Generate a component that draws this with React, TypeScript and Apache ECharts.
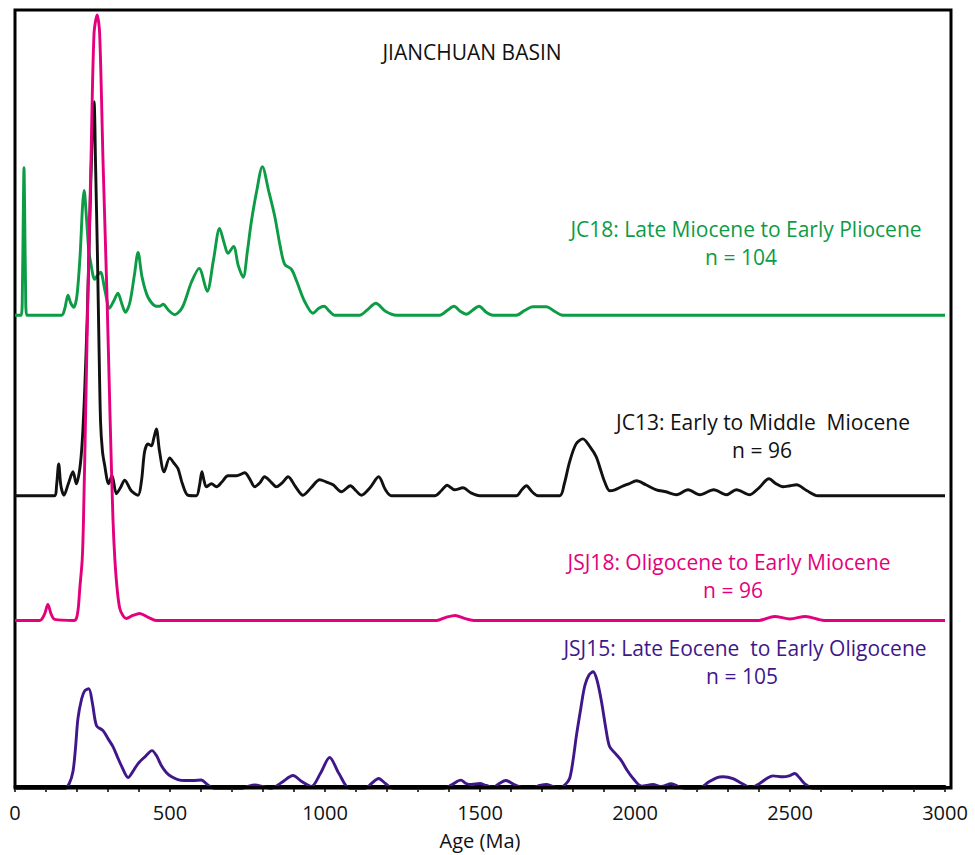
import React, { useEffect, useRef } from "react";
import * as echarts from "echarts";

// [age (Ma), relative probability (scaled)]
const jc18: number[][] = [[0,0],[20,0],[24,30],[27,110],[29,148],[31,110],[34,30],[38,0],[150,0],[160,6],[171,20],[180,12],[190,8],[200,20],[210,60],[218,110],[223,125],[230,100],[238,65],[244,53],[257,36],[266,40],[276,43],[290,25],[305,7],[318,14],[332,22],[344,12],[356,3],[370,12],[385,40],[397,63],[410,38],[429,18],[456,9],[467,9],[478,11],[495,5],[515,0.5],[540,8],[569,33],[594,47],[620,24],[640,55],[660,87],[675,72],[687,62],[705,69],[720,50],[736,38],[750,65],[762,93],[780,125],[798,149],[818,125],[838,99],[855,70],[870,51],[892,46],[910,33],[934,14],[961,2],[980,7],[997,9],[1014,4],[1031,0],[1112,0],[1135,5],[1164,12],[1195,4],[1230,0],[1370,0],[1395,5],[1416,9],[1436,4],[1456,1],[1476,5],[1497,9],[1520,3],[1542,0],[1617,0],[1645,5],[1670,8.5],[1692,8.5],[1714,8.5],[1740,4],[1767,0],[3000,0]];

const jc13: number[][] = [[0,0],[128,0],[134,10],[141,32],[148,10],[158,0.5],[172,12],[187,24],[198,12],[209,27],[217,55],[225,107],[233,180],[241,274],[248,350],[255,395],[260,330],[266,240],[271,150],[276,74],[282,45],[289,31],[302,12],[313,20],[327,2],[340,8],[354,15.6],[375,5],[397,0.5],[408,15],[418,44],[429,52],[440,50],[448,58],[456,67],[466,45],[481,24],[499,38],[512,33],[526,27],[540,12],[558,0.5],[585,0],[595,10],[603,24],[610,15],[617,9],[634,12],[650,9],[668,14],[687,20],[714,20],[741,23],[757,17],[773,9],[790,13],[805,19],[825,14],[843,9],[862,13],[881,19],[905,9],[929,0.5],[955,8],[983,16],[1003,14],[1026,11],[1053,4],[1082,10],[1100,5],[1117,0.5],[1145,8],[1173,19],[1195,6],[1214,0],[1354,0],[1375,5],[1394,10.6],[1418,6],[1445,8],[1470,3],[1499,0],[1617,0],[1635,6],[1650,10],[1668,4],[1687,0],[1757,0],[1772,12],[1789,34],[1810,52],[1832,57],[1855,49],[1875,39],[1890,25],[1902,14],[1918,5],[1935,6],[1956,9],[1980,12],[2005,15],[2035,11],[2069,6],[2100,4],[2134,1],[2171,6],[2209,1],[2254,6],[2295,1],[2327,6],[2370,1],[2400,8],[2432,17],[2455,12],[2477,9],[2500,10],[2521,11],[2555,5],[2590,0],[3000,0]];

const jsj18: number[][] = [[0,0],[80,0],[95,6],[106,16],[117,6],[128,1],[190,0],[198,2],[204,12],[209,32],[217,62],[221,102],[228,210],[235,322],[245,460],[255,589],[265,607],[273,589],[284,460],[297,322],[307,200],[316,102],[322,62],[330,30],[338,12],[348,5],[359,2],[380,5],[402,7],[430,3],[456,0],[1360,0],[1390,3],[1420,5],[1450,2],[1480,0],[2400,0],[2450,4],[2500,1.5],[2550,4],[2610,0],[3000,0]];

const jsj15: number[][] = [[0,0],[160,0],[175,5],[187,17],[195,40],[203,70],[215,90],[225,98],[238,100],[250,85],[263,63],[284,58],[300,50],[316,42],[330,32],[343,23],[365,11],[380,17],[397,25],[420,32],[442,38],[458,32],[472,23],[488,16],[504,12],[525,9],[547,8],[575,8],[601,8.5],[620,4],[644,0],[730,0],[750,2],[773,3.5],[800,2],[827,0],[860,6],[897,13],[925,7],[956,2],[985,15],[1015,31],[1045,15],[1080,0],[1128,0],[1150,5],[1173,10],[1195,5],[1220,0],[1381,0],[1410,4],[1438,8.4],[1455,5],[1472,4],[1499,5],[1520,3],[1542,1],[1562,5],[1583,8],[1610,4],[1639,1],[1671,1],[1693,3],[1714,4],[1735,2],[1757,0.5],[1775,4],[1789,10],[1800,28],[1811,53],[1825,80],[1838,103],[1852,114],[1865,117],[1878,108],[1892,87],[1905,62],[1918,42],[1937,35],[1956,28],[1975,18],[1994,10],[2021,2.4],[2058,4],[2085,2],[2117,4.7],[2140,2],[2160,0],[2203,0],[2240,7],[2265,11],[2284,11.7],[2316,10],[2345,5],[2375,1],[2402,5],[2425,10],[2445,12.7],[2477,11.7],[2500,13],[2515,15],[2530,11],[2547,5],[2574,0],[3000,0]];

const xTickValues = [0, 500, 1000, 1500, 2000, 2500, 3000];

const GREEN = "#0b9c45";
const BLACK = "#111111";
const PINK = "#e4007d";
const PURPLE = "#40178a";
const FONT = "'Open Sans', 'Noto Sans', sans-serif";
const LBL = `21px ${FONT}`;

export default function App() {
  const ref = useRef<HTMLDivElement>(null);
  useEffect(() => {
    document.body.style.margin = "0";
    if (!ref.current) return;
    const chart = echarts.init(ref.current, undefined, { renderer: "svg" });
    const mk = (name: string, d: number[][], offset: number, color: string, z: number) => ({
      name,
      type: "line",
      data: d.map(([a, v]) => [a, v + offset]),
      showSymbol: false,
      symbol: "none",
      smooth: 0.3,
      clip: false,
      z,
      lineStyle: { color, width: 2.9 },
      emphasis: { disabled: true },
    });
    const txt = (text: string, x: number, y: number, fill: string, font = LBL) => ({
      type: "text",
      x,
      y,
      silent: true,
      style: { text, fill, font, textAlign: "center", textVerticalAlign: "middle" },
    });
    chart.setOption({
      animation: false,
      grid: { left: 15, top: 10, width: 930, height: 778 },
      xAxis: {
        type: "value",
        min: 0,
        max: 3000,
        interval: 100,
        name: "Age (Ma)",
        nameLocation: "middle",
        nameGap: 44,
        nameTextStyle: { color: "#111", fontSize: 20, fontFamily: FONT },
        axisLine: { lineStyle: { color: "#000", width: 3 } },
        axisTick: { length: 6, lineStyle: { color: "#000", width: 1.5 } },
        axisLabel: {
          color: "#111",
          fontSize: 20,
          fontFamily: FONT,
          margin: 16,
          formatter: (v: number) => (xTickValues.includes(v) ? String(v) : ""),
        },
        splitLine: { show: false },
      },
      yAxis: { type: "value", min: 0, max: 778, show: false },
      series: [
        mk("JC18", jc18, 472, GREEN, 2),
        mk("JC13", jc13, 291, BLACK, 3),
        mk("JSJ18", jsj18, 166, PINK, 4),
        mk("JSJ15", jsj15, -2.5, PURPLE, 5),
      ],
      graphic: [
        {
          type: "rect",
          shape: { x: 15, y: 10, width: 936, height: 778 },
          style: { fill: "none", stroke: "#000", lineWidth: 3 },
          z: 1,
          silent: true,
        },
        {
          type: "line",
          shape: { x1: 14, y1: 787.5, x2: 952, y2: 787.5 },
          style: { stroke: "#000", lineWidth: 3 },
          z: 20,
          silent: true,
        },
        txt("JIANCHUAN BASIN", 472, 52, "#111", `21px ${FONT}`),
        txt("JC18: Late Miocene to Early Pliocene", 746, 229, GREEN),
        txt("n = 104", 741, 257, GREEN),
        txt("JC13: Early to Middle  Miocene", 763, 422, BLACK),
        txt("n = 96", 762, 450, BLACK),
        txt("JSJ18: Oligocene to Early Miocene", 729, 562, PINK),
        txt("n = 96", 733, 590, PINK),
        txt("JSJ15: Late Eocene  to Early Oligocene", 745, 648, PURPLE),
        txt("n = 105", 742, 676, PURPLE),
      ],
    });
    return () => chart.dispose();
  }, []);
  return <div ref={ref} style={{ width: 975, height: 855 }} />;
}
